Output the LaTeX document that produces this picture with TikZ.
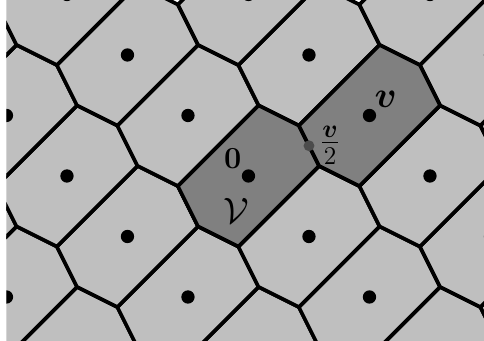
\documentclass[tikz,border=0pt]{standalone}
\usepackage{amsmath,amssymb}
\begin{document}
\begin{tikzpicture}[line width=1.7pt,
	cell/.style={draw=black, fill=black!25},
	darkcell/.style={draw=black, fill=black!50}]
	\useasboundingbox (-4.107,-2.727) rectangle (3.893,2.909);
	\clip (-4,-2.727) rectangle (3.893,2.909);
	% Vẽ các ô Voronoi (lưới sinh bởi (1,-1) và (2,1))
	\foreach \y in {-4,...,3}
	\foreach \k in {-3,...,3}
	{
		\pgfmathtruncatemacro{\x}{3*\k-\y}
		\draw[cell, shift={(\x,\y)}] (7/6,1/6) -- (5/6,5/6) -- (1/6,7/6) -- (-7/6,-1/6) -- (-5/6,-5/6) -- (-1/6,-7/6) -- cycle;
	}
	\draw[darkcell] (7/6,1/6) -- (5/6,5/6) -- (1/6,7/6) -- (-7/6,-1/6) -- (-5/6,-5/6) -- (-1/6,-7/6) -- cycle;
	\draw[darkcell, shift={(2,1)}] (7/6,1/6) -- (5/6,5/6) -- (1/6,7/6) -- (-7/6,-1/6) -- (-5/6,-5/6) -- (-1/6,-7/6) -- cycle;
	% các điểm lưới
	\foreach \y in {-4,...,4}
	\foreach \k in {-3,...,3}
	{
		\pgfmathtruncatemacro{\x}{3*\k-\y}
		\fill (\x,\y) circle (0.11);
	}
	\fill[black!70] (1,0.5) circle (0.09);
	\node (zero) at (-0.26,0.28) {\Large$\mathbf{0}$};
	\node (cellV) at (-0.2,-0.58) {\LARGE$\mathcal{V}$};
	\node (vec) at (2.27,1.27) {\LARGE$\boldsymbol{v}$};
	\node (half) at (1.35,0.51) {\LARGE$\frac{\boldsymbol{v}}{2}$};
\end{tikzpicture}
\end{document}
